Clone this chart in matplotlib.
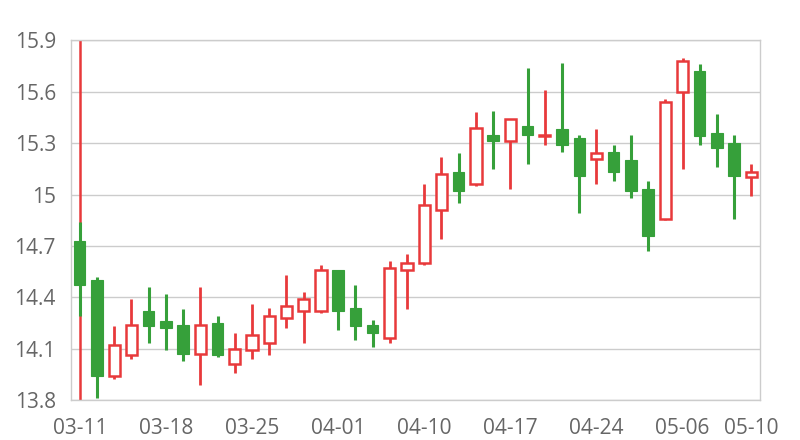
import matplotlib
matplotlib.use("Agg")
import matplotlib.pyplot as plt
from matplotlib.patches import Rectangle

# trading days
dates = ["03-11", "03-12", "03-13", "03-14", "03-15",
         "03-18", "03-19", "03-20", "03-21", "03-22",
         "03-25", "03-26", "03-27", "03-28", "03-29",
         "04-01", "04-02", "04-03", "04-04", "04-08",
         "04-10", "04-11", "04-12", "04-15", "04-16",
         "04-17", "04-18", "04-19", "04-22", "04-23",
         "04-24", "04-25", "04-26", "04-29", "04-30",
         "05-06", "05-07", "05-08", "05-09", "05-10"]

opens = [14.73, 14.50, 13.94, 14.06, 14.32, 14.26, 14.24, 14.07, 14.25, 14.01,
         14.09, 14.13, 14.28, 14.32, 14.32, 14.56, 14.34, 14.24, 14.16, 14.56,
         14.60, 14.91, 15.13, 15.06, 15.35, 15.31, 15.40, 15.34, 15.38, 15.33,
         15.21, 15.25, 15.20, 15.03, 14.86, 15.60, 15.72, 15.36, 15.30, 15.10]
closes = [14.47, 13.94, 14.12, 14.24, 14.23, 14.22, 14.07, 14.24, 14.06, 14.10,
          14.18, 14.29, 14.35, 14.39, 14.56, 14.32, 14.23, 14.19, 14.57, 14.60,
          14.94, 15.12, 15.02, 15.39, 15.31, 15.44, 15.35, 15.35, 15.29, 15.11,
          15.24, 15.13, 15.02, 14.76, 15.54, 15.78, 15.34, 15.27, 15.11, 15.13]
highs = [14.84, 14.52, 14.23, 14.39, 14.46, 14.42, 14.33, 14.46, 14.29, 14.19,
         14.36, 14.34, 14.53, 14.43, 14.59, 14.56, 14.47, 14.27, 14.61, 14.65,
         15.06, 15.22, 15.24, 15.48, 15.49, 15.44, 15.74, 15.61, 15.77, 15.35,
         15.38, 15.29, 15.35, 15.08, 15.56, 15.80, 15.76, 15.47, 15.35, 15.18]
lows = [14.29, 13.81, 13.92, 14.04, 14.13, 14.09, 14.03, 13.89, 14.05, 13.96,
        14.04, 14.06, 14.22, 14.13, 14.31, 14.21, 14.15, 14.11, 14.13, 14.33,
        14.59, 14.74, 14.95, 15.05, 15.15, 15.03, 15.18, 15.29, 15.25, 14.89,
        15.06, 15.08, 14.98, 14.67, 14.85, 15.15, 15.29, 15.16, 14.86, 14.99]

y_ticks = [13.8, 14.1, 14.4, 14.7, 15.0, 15.3, 15.6, 15.9]
y_labels = ["13.8", "14.1", "14.4", "14.7", "15", "15.3", "15.6", "15.9"]
x_tick_idx = [0, 5, 10, 15, 20, 25, 30, 35, 39]

up_color = "#e8393b"
down_color = "#36a03a"
grid_color = "#cccccc"
text_color = "#666666"

plt.rcParams["font.family"] = ["Open Sans", "DejaVu Sans"]

fig = plt.figure(figsize=(8, 4.4), dpi=100)
ax = fig.add_axes([0.089, 0.091, 0.861, 0.817])

# odd red line through the first day, drawn behind everything
ax.axvline(0, color=up_color, lw=1.8, zorder=1)

w = 0.66
for i in range(len(dates)):
    o, c, h, l = opens[i], closes[i], highs[i], lows[i]
    if c >= o:
        ax.vlines(i, l, h, color=up_color, lw=2, zorder=2)
        ax.add_patch(Rectangle((i - w / 2, o), w, max(c - o, 0.004),
                               facecolor="white", edgecolor=up_color,
                               lw=1.8, zorder=3))
    else:
        ax.vlines(i, l, h, color=down_color, lw=2.2, zorder=2)
        ax.add_patch(Rectangle((i - w / 2, c), w, o - c,
                               facecolor=down_color, edgecolor=down_color,
                               lw=0.8, zorder=3))

ax.set_xlim(-0.5, len(dates) - 0.5)
ax.set_ylim(13.8, 15.9)
ax.set_yticks(y_ticks)
ax.set_yticklabels(y_labels)
ax.set_xticks(x_tick_idx)
ax.set_xticklabels([dates[i] for i in x_tick_idx])
ax.tick_params(length=0, labelsize=15, colors=text_color)
ax.tick_params(axis="x", pad=13)
ax.tick_params(axis="y", pad=11)
ax.grid(axis="y", color=grid_color, lw=1)
ax.set_axisbelow(True)
for s in ax.spines.values():
    s.set_color(grid_color)
    s.set_linewidth(1)

fig.savefig("out.png", dpi=100)
